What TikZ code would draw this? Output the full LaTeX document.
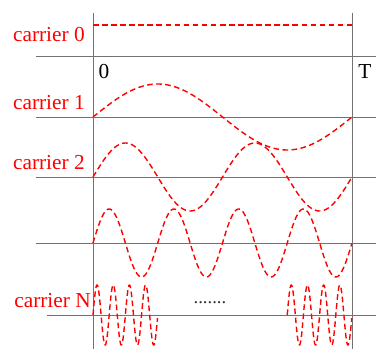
\documentclass[tikz,border=0pt]{standalone}
\usepackage{fontspec}
\setmainfont{Liberation Serif}
\begin{document}
\begin{tikzpicture}[x=0.75pt,y=-0.75pt,
  grid/.style={draw=black!55,line width=0.7pt},
  wave/.style={draw=red,line width=1.05pt,dash pattern=on 4.2pt off 2.6pt},
  lbl/.style={text=red,font=\fontsize{16}{18}\selectfont,anchor=east,inner sep=0pt}]
\useasboundingbox (0,0) rectangle (376,349);
% grid
\draw[grid] (93,13) -- (93,349);
\draw[grid] (352,13) -- (352,349);
\draw[grid] (36,56) -- (376,56);
\draw[grid] (36,117) -- (376,117);
\draw[grid] (36,177) -- (376,177);
\draw[grid] (36,243) -- (376,243);
\draw[grid] (47,315) -- (376,315);
% waves
\draw[wave] (93,25) -- (352,25);
\draw[wave,domain=0:1,samples=120,smooth] plot ({93+259*\x},{117-33*sin(360*\x)});
\draw[wave,domain=0:1,samples=160,smooth] plot ({93+259*\x},{177-34*sin(720*\x)});
\draw[wave,domain=0:1,samples=240,smooth] plot ({93+259*\x},{243-34*sin(1440*\x)});
\draw[wave,domain=0:0.25,samples=200,smooth] plot ({93+259*\x},{315-30*sin(5760*\x)});
\draw[wave,domain=0.75:1,samples=200,smooth] plot ({93+259*\x},{315-30*sin(5760*\x)});
% labels
\node[lbl] (c0) at (85,35) {carrier 0};
\node[lbl] (c1) at (85,103) {carrier 1};
\node[lbl] (c2) at (85,163) {carrier 2};
\node[lbl] (cN) at (91,301) {carrier N};
\node[font=\fontsize{16}{18}\selectfont,inner sep=0pt] (t0) at (104,72) {0};
\node[font=\fontsize{16}{18}\selectfont,inner sep=0pt] (tT) at (365,72) {T};
\node[font=\fontsize{14}{16}\selectfont,text=black!80,inner sep=0pt] (dots) at (210,303) {.......};
\end{tikzpicture}
\end{document}
